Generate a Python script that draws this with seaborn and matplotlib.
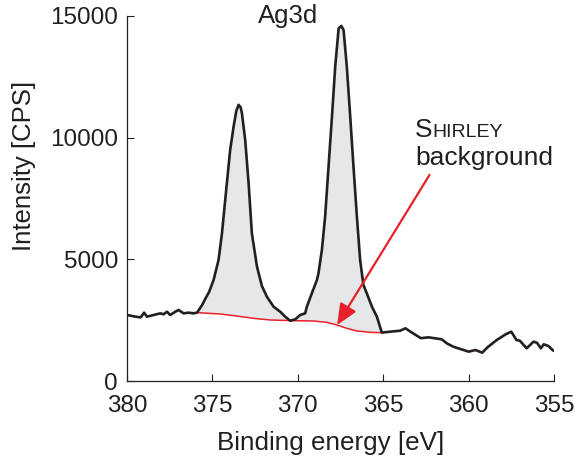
import numpy as np
import pandas as pd
import seaborn as sns
import matplotlib
matplotlib.use("Agg")
import matplotlib.pyplot as plt

# ---- data ----
energy = [380.0, 379.5, 379.2, 379.0, 378.83, 378.44, 378.05, 377.86, 377.66, 377.47,
          377.17, 376.98, 376.69, 376.4, 376.1, 375.9, 375.6, 375.4, 375.2, 374.93,
          374.64, 374.44, 374.25, 373.96, 373.76, 373.6, 373.47, 373.35, 373.27, 373.08,
          372.88, 372.69, 372.39, 372.1, 371.81, 371.42, 371.03, 370.74, 370.45, 370.15,
          369.86, 369.57, 369.47, 369.18, 368.88, 368.79, 368.59, 368.4, 368.2, 368.0,
          367.81, 367.61, 367.45, 367.32, 367.13, 366.93, 366.74, 366.54, 366.35, 366.16,
          365.96, 365.66, 365.37, 365.08, 364.6, 364.0, 363.7, 363.4, 362.8, 362.35,
          361.57, 361.28, 360.9, 360.0, 359.6, 359.2, 358.9, 358.35, 357.8, 357.5,
          357.2, 357.0, 356.6, 356.2, 356.0, 355.77, 355.6, 355.33, 355.04]
intensity = [2713, 2643, 2615, 2808, 2643, 2713, 2780, 2740, 2848, 2713,
             2848, 2918, 2780, 2808, 2780, 2810, 3124, 3400, 3650, 4150,
             4973, 6070, 7440, 9494, 10450, 11100, 11350, 11250, 11000, 9905,
             8125, 6070, 4700, 3900, 3465, 3054, 2848, 2643, 2478, 2535,
             2713, 2780, 3054, 3600, 4150, 4425, 5385, 6755, 8810, 10860,
             12920, 14490, 14590, 14425, 12920, 10860, 8810, 6755, 4973, 3950,
             3600, 3054, 2643, 1990, 2026, 2067, 2166, 2026, 1760, 1795,
             1713, 1549, 1411, 1206, 1274, 1163, 1380, 1685, 1931, 2026,
             1685, 1656, 1344, 1615, 1574, 1344, 1508, 1438, 1245]

bg_energy = [375.9, 374.54, 373.56, 372.59, 371.6, 370.25, 369.08, 368.3, 367.7,
             367.13, 366.54, 365.76, 365.08]
bg_intensity = [2810, 2753, 2670, 2575, 2507, 2480, 2466, 2410, 2300,
                2165, 2055, 2000, 1985]

x_ticks = [380, 375, 370, 365, 360, 355]
y_ticks = [0, 5000, 10000, 15000]

spec = pd.DataFrame({"energy": energy, "intensity": intensity})
bg = pd.DataFrame({"energy": bg_energy, "intensity": bg_intensity})

TXT = "#231f20"
RED = "#e8202a"

sns.set_theme(style="ticks")
plt.rcParams["font.family"] = ["Liberation Sans", "DejaVu Sans"]

W, H = 577, 466
fig = plt.figure(figsize=(W / 100, H / 100), dpi=100)
ax = fig.add_axes([127 / W, 1 - 381 / H, (554 - 127) / W, (381 - 16) / H])

# shaded peak area between spectrum and Shirley background
lo, hi = min(bg_energy), max(bg_energy)
inside = spec[(spec.energy >= lo) & (spec.energy <= hi)]
poly_x = list(inside.energy) + list(bg.energy[::-1])
poly_y = list(inside.intensity) + list(bg.intensity[::-1])
ax.fill(poly_x, poly_y, color="#e6e7e8", lw=0, zorder=1)

sns.lineplot(data=bg, x="energy", y="intensity", sort=False, color=RED, lw=1.1,
             ax=ax, zorder=3)
sns.lineplot(data=spec, x="energy", y="intensity", sort=False, color=TXT, lw=1.9,
             ax=ax, zorder=4)

ax.set_xlim(380, 355)
ax.set_ylim(0, 15000)
ax.set_xticks(x_ticks)
ax.set_yticks(y_ticks)
ax.set_xticklabels([str(t) for t in x_ticks])
ax.set_yticklabels([str(t) for t in y_ticks])
ax.tick_params(direction="in", length=5, width=0.8, colors=TXT, labelsize=17.5)
ax.tick_params(axis="x", pad=10)
ax.tick_params(axis="y", pad=6.5)
for s in ["top", "right"]:
    ax.spines[s].set_visible(False)
for s in ["left", "bottom"]:
    ax.spines[s].set_color(TXT)
    ax.spines[s].set_linewidth(0.9)

ax.set_xlabel("Binding energy [eV]", fontsize=18.7, color=TXT)
ax.set_ylabel("Intensity [CPS]", fontsize=18.5, color=TXT)
ax.xaxis.set_label_coords((331 - 127) / 427, (381 - 431) / 365)
ax.yaxis.set_label_coords((36 - 127) / 427, (381 - 165.5) / 365)

fig.text(288 / W, 1 - 23 / H, "Ag3d", ha="center", va="baseline",
         fontsize=18.5, color=TXT)

# SHIRLEY in small caps
s_txt = fig.text(415 / W, 1 - 137 / H, "S", ha="left", va="baseline",
                 fontsize=19, color=TXT)
fig.canvas.draw()
bb = s_txt.get_window_extent(renderer=fig.canvas.get_renderer())
fig.text(bb.x1 / fig.bbox.width, 1 - 137 / H, "HIRLEY", ha="left", va="baseline",
         fontsize=14, color=TXT)
fig.text(415 / W, 1 - 165 / H, "background", ha="left", va="baseline",
         fontsize=19, color=TXT)

ax.annotate("", xy=(367.7, 2300), xytext=(362.29, 8467),
            arrowprops=dict(arrowstyle="-|>,head_length=0.8,head_width=0.35",
                            color=RED, lw=1.6, shrinkA=0, shrinkB=0,
                            mutation_scale=16), zorder=5)

fig.savefig("out.png", dpi=100)
